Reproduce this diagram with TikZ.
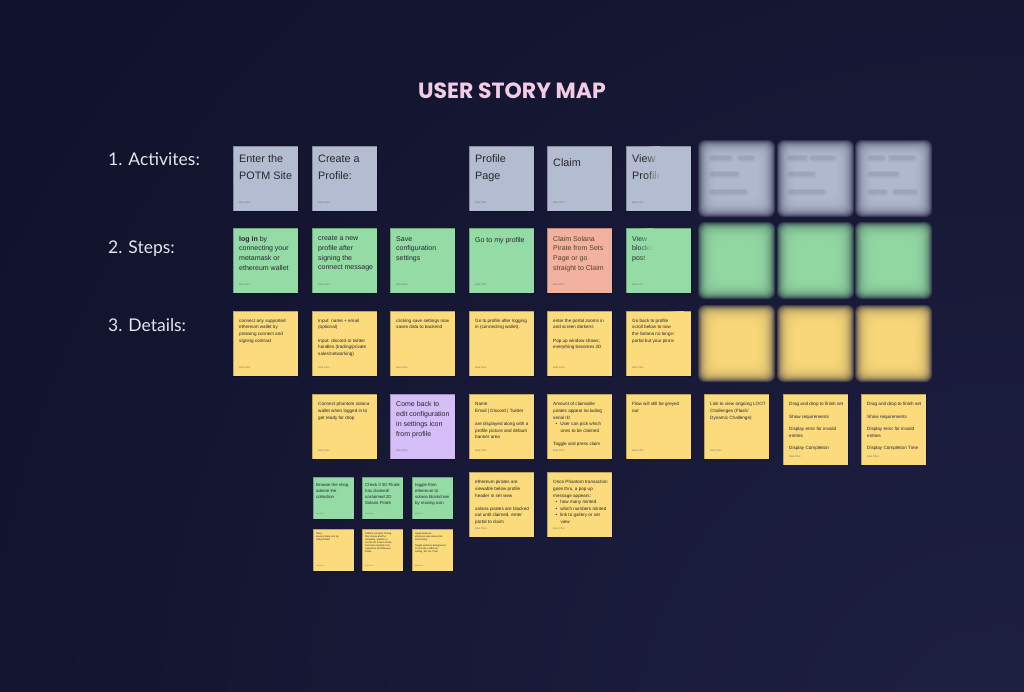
\documentclass[tikz,border=0pt]{standalone}
\usepackage{fontspec}
\setmainfont{Liberation Sans}
\newfontfamily\titlefont{Poppins}
\newfontfamily\rowfont{Lato}
\usetikzlibrary{positioning, fadings}

\definecolor{boardnavy}{HTML}{11122B}
\definecolor{boardglow}{HTML}{1E2042}
\definecolor{titlepink}{HTML}{F3CBE2}
\definecolor{rowwhite}{HTML}{E4E5EE}
\definecolor{cardgrey}{HTML}{B3BCD0}
\definecolor{cardgreen}{HTML}{95DBA5}
\definecolor{cardsalmon}{HTML}{F3B2A0}
\definecolor{cardyellow}{HTML}{FBDB7B}
\definecolor{cardpurple}{HTML}{D5BDF7}
\definecolor{ink}{HTML}{26262E}
\definecolor{inkclaim}{HTML}{4E4220}
\definecolor{inkgrey}{HTML}{6E6E78}

\tikzfading[name=fade in east, left color=transparent!100, right color=transparent!0]

\tikzset{
  titletext/.style={anchor=base, inner sep=0pt, text=titlepink,
    font=\titlefont\bfseries\fontsize{22}{26}\selectfont},
  rowlabel/.style={anchor=base west, inner sep=0pt, text=rowwhite,
    font=\rowfont\fontsize{17.5}{20}\selectfont},
  notebase/.style={rectangle, anchor=north west, inner sep=0pt,
    draw=black, draw opacity=0.25, line width=0.4pt},
  note/.style={notebase, minimum width=65pt, minimum height=65pt,
    label={[byline]south west:Alex Choi}},
  byline/.style={anchor=base west, xshift=6pt, yshift=7.5pt, inner sep=0pt,
    text=inkgrey, font=\fontsize{2.6}{3}\selectfont},
  activity/.style={note, fill=cardgrey},
  stepcard/.style={note, fill=cardgreen},
  claimcard/.style={note, fill=cardsalmon},
  detail/.style={note, fill=cardyellow},
  revisit/.style={note, fill=cardpurple},
  mini/.style={notebase, minimum width=41pt, minimum height=42pt,
    label={[minibyline]south west:Alex Choi}},
  minibyline/.style={anchor=base west, xshift=3pt, yshift=5pt, inner sep=0pt,
    text=inkgrey, font=\fontsize{1.8}{2}\selectfont},
  minigreen/.style={mini, fill=cardgreen},
  miniyellow/.style={mini, fill=cardyellow},
  txtL/.style={anchor=north west, inner sep=0pt, align=left, text=ink,
    font=\fontsize{10.8}{16.9}\selectfont, execute at begin node=\strut},
  txtM/.style={txtL, font=\fontsize{7}{9.7}\selectfont},
  txtS/.style={txtL, font=\fontsize{4.6}{6.6}\selectfont},
  txtXS/.style={txtL, font=\fontsize{4.3}{6}\selectfont},
  txtXXS/.style={txtL, font=\fontsize{2.4}{3}\selectfont},
  smudge/.style={line cap=round, line width=7pt, draw opacity=0.13,
    postaction={draw, line width=3.5pt, draw opacity=0.18}},
}

\begin{document}
\begin{tikzpicture}[x=1pt, y=1pt]

  % board
  \useasboundingbox (0,0) rectangle (1024,-691);
  \begin{scope}
    \clip (0,0) rectangle (1024,-691);
    \fill[boardnavy] (0,0) rectangle (1024,-691);
    \shade[inner color=boardglow, outer color=boardnavy] (-150,400) rectangle (2150,-1900);
  \end{scope}

  % title and row labels
  \node[titletext] (title) at (512,-98) {USER STORY MAP};
  \node[rowlabel] (lact)  at (108,-165.7) {1. Activites:};
  \node[rowlabel] (lstep) at (108,-253)   {2. Steps:};
  \node[rowlabel] (ldet)  at (108,-331)   {3. Details:};

  % blurred part of the board
  \foreach \bx in {704,783,861} {
    \foreach \by/\bc in {146/cardgrey,228/cardgreen,311/cardyellow} {
      \foreach \e in {6,5,...,-28}
        \fill[\bc, fill opacity=0.2, rounded corners=7pt]
          (\bx-\e,-\by+\e) rectangle (\bx+65+\e,-\by-65-\e);
    }
  }
  \begin{scope}[cardgrey!65!black]
    \draw[smudge] (712,-158) -- (730,-158) (740,-158) -- (752,-158);
    \draw[smudge] (712,-174) -- (737,-174);
    \draw[smudge] (712,-192) -- (745,-192);
    \draw[smudge] (790,-158) -- (805,-158) (812,-158) -- (833,-158);
    \draw[smudge] (790,-174) -- (813,-174);
    \draw[smudge] (790,-192) -- (823,-192);
    \draw[smudge] (870,-158) -- (883,-158) (891,-158) -- (913,-158);
    \draw[smudge] (870,-174) -- (897,-174);
    \draw[smudge] (870,-192) -- (885,-192) (895,-192) -- (915,-192);
  \end{scope}

  % activities
  \node[activity] (a1) at (233,-146) {};
  \node[txtL, below right=8.5pt and 6pt of a1.north west] (a1t) {Enter the\\POTM Site};
  \node[activity] (a2) at (312,-146) {};
  \node[txtL, below right=8.5pt and 6pt of a2.north west] (a2t) {Create a\\Profile:};
  \node[activity] (a4) at (469,-146) {};
  \node[txtL, below right=8.5pt and 6pt of a4.north west] (a4t) {Profile\\Page};
  \node[activity] (a5) at (547,-146) {};
  \node[txtL, below right=8.5pt and 6pt of a5.north west] (a5t) {Claim};
  \node[activity] (a6) at (626,-146) {};
  \node[txtL, below right=8.5pt and 6pt of a6.north west] (a6t) {View\\Profile};

  % steps
  \node[stepcard] (s1) at (233,-228) {};
  \node[txtM, below right=8pt and 6pt of s1.north west] (s1t)
    {\textbf{log in} by\\connecting your\\metamask or\\ethereum wallet};
  \node[stepcard] (s2) at (312,-228) {};
  \node[txtM, below right=8pt and 6pt of s2.north west] (s2t)
    {create a new\\profile after\\signing the\\connect message};
  \node[stepcard] (s3) at (390,-228) {};
  \node[txtM, below right=8pt and 6pt of s3.north west] (s3t)
    {Save\\configuration\\settings};
  \node[stepcard] (s4) at (469,-228) {};
  \node[txtM, below right=8pt and 6pt of s4.north west] (s4t) {Go to my profile};
  \node[claimcard] (s5) at (547,-228) {};
  \node[txtM, text=inkclaim, below right=8pt and 6pt of s5.north west] (s5t)
    {Claim Solana\\Pirate from Sets\\Page or go\\straight to Claim};
  \node[stepcard] (s6) at (626,-228) {};
  \node[txtM, below right=8pt and 6pt of s6.north west] (s6t) {View\\blockchain\\post};

  % details
  \node[detail] (d1) at (233,-311) {};
  \node[txtS, below right=7.8pt and 6pt of d1.north west] (d1t)
    {connect any supported\\ethereum wallet by\\pressing connect and\\signing contract};
  \node[detail] (d2) at (312,-311) {};
  \node[txtS, below right=7.8pt and 6pt of d2.north west] (d2t)
    {Input: name + email\\(optional)\\[6.6pt]Input: discord or twitter\\handles (trading/private\\sales/networking)};
  \node[detail] (d3) at (390,-311) {};
  \node[txtS, below right=7.8pt and 6pt of d3.north west] (d3t)
    {clicking save settings now\\saves data to backend};
  \node[detail] (d4) at (469,-311) {};
  \node[txtS, below right=7.8pt and 6pt of d4.north west] (d4t)
    {Go to profile after logging\\in (connecting wallet).};
  \node[detail] (d5) at (547,-311) {};
  \node[txtS, below right=7.8pt and 6pt of d5.north west] (d5t)
    {enter the portal zooms in\\and screen darkens\\[6.6pt]Pop up window shows;\\everything becomes 2D};
  \node[detail] (d6) at (626,-311) {};
  \node[txtS, below right=7.8pt and 6pt of d6.north west] (d6t)
    {Go back to profile\\scroll below to now\\the Solana no longer\\portal but your pirate};

  % column 6 dissolves into the blurred part
  \fill[cardgrey, path fading=fade in east] (645,-146.5) rectangle (660,-210.5);
  \fill[cardgrey] (660,-146.5) rectangle (690.8,-210.5);
  \fill[cardgreen, path fading=fade in east] (638,-228.5) rectangle (653,-292.5);
  \fill[cardgreen] (653,-228.5) rectangle (690.8,-292.5);
  \fill[cardyellow, path fading=fade in east] (668,-311.5) rectangle (684,-375.5);
  \fill[cardyellow] (684,-311.5) rectangle (690.8,-375.5);

  % second row of details
  \node[detail] (e2) at (312,-394) {};
  \node[txtS, below right=8.4pt and 6pt of e2.north west] (e2t)
    {Connect phantom solana\\wallet when logged in to\\get ready for drop};
  \node[revisit] (e3) at (390,-394) {};
  \node[txtM, below right=7.7pt and 6pt of e3.north west] (e3t)
    {Come back to\\edit configuration\\in settings icon\\from profile};
  \node[detail] (e4) at (469,-394) {};
  \node[txtS, below right=8.4pt and 6pt of e4.north west] (e4t)
    {Name\\Email | Discord | Twitter\\[6.6pt]are displayed along with a\\profile picture and default\\banner area};
  \node[detail] (e5) at (547,-394) {};
  \node[txtS, below right=8.4pt and 6pt of e5.north west] (e5t)
    {Amount of claimable\\pirates appear including\\serial ID\\\hspace*{2.5pt}\textbullet\hspace{3pt}User can pick which\\\hspace*{7.3pt}ones to be claimed\\[6.6pt]Toggle and press claim};
  \node[detail] (e6) at (626,-394) {};
  \node[txtS, below right=8.4pt and 6pt of e6.north west] (e6t)
    {Flow will still be greyed\\out};
  \node[detail] (e7) at (704,-394) {};
  \node[txtS, below right=8.4pt and 6pt of e7.north west] (e7t)
    {Link to view ongoing LOOT\\Challenges (Flash/\\Dynamic Challenge)};
  \node[detail, minimum height=71pt] (e8) at (783,-394) {};
  \node[txtS, below right=8.4pt and 6pt of e8.north west] (e8t)
    {Drag and drop to finish set\\[5.7pt]Show requirements\\[5.7pt]Display error for invalid\\entries\\[5.7pt]Display Completion};
  \node[detail, minimum height=71pt] (e9) at (861,-394) {};
  \node[txtS, below right=8.4pt and 6pt of e9.north west] (e9t)
    {Drag and drop to finish set\\[5.7pt]Show requirements\\[5.7pt]Display error for invalid\\entries\\[5.7pt]Display Completion Time};

  % third row of details
  \node[detail] (f4) at (469,-472) {};
  \node[txtS, below right=8.4pt and 6pt of f4.north west] (f4t)
    {ethereum pirates are\\viewable below profile\\header in set view\\[6.6pt]solana pirates are blacked\\out until claimed. enter\\portal to claim};
  \node[detail] (f5) at (547,-472) {};
  \node[txtS, below right=8.4pt and 6pt of f5.north west] (f5t)
    {Once Phantom transaction\\goes thru, a pop up\\message appears:\\\hspace*{2.5pt}\textbullet\hspace{3pt}how many minted\\\hspace*{2.5pt}\textbullet\hspace{3pt}which numbers minted\\\hspace*{2.5pt}\textbullet\hspace{3pt}link to gallery or set\\\hspace*{7.3pt}view};

  % small cards
  \node[minigreen] (g1) at (313,-477) {};
  \node[txtXS, below right=6pt and 3pt of g1.north west] (g1t)
    {Browse the shop,\\admire the\\collection};
  \node[minigreen] (g2) at (362,-477) {};
  \node[txtXS, below right=6pt and 3pt of g2.north west] (g2t)
    {Check if 3D Pirate\\has claimed/\\unclaimed 2D\\Solana Pirate};
  \node[minigreen] (g3) at (412,-477) {};
  \node[txtXS, below right=6pt and 3pt of g3.north west] (g3t)
    {toggle from\\ethereum to\\solana blockchain\\by moving icon};
  \node[miniyellow] (h1) at (313,-529) {};
  \node[txtXXS, below right=3.5pt and 3pt of h1.north west] (h1t)
    {Stars,\\view by likely, sort by,\\rarity/number};
  \node[miniyellow] (h2) at (362,-529) {};
  \node[txtXXS, below right=3.5pt and 3pt of h2.north west] (h2t)
    {A filters, property sorting,\\filter shows and the\\metadata, whether or\\not the 3D Solana Pirate\\has been claimed or its\\respective 2D Ethereum\\Pirate};
  \node[miniyellow] (h3) at (412,-529) {};
  \node[txtXXS, below right=3.5pt and 3pt of h3.north west] (h3t)
    {toggle between\\ethereum and solana (the\\blockchain)\\[3pt]Toggle switches background\\to look like a different\\setting. 3D, 2D, Pixel};

\end{tikzpicture}
\end{document}
